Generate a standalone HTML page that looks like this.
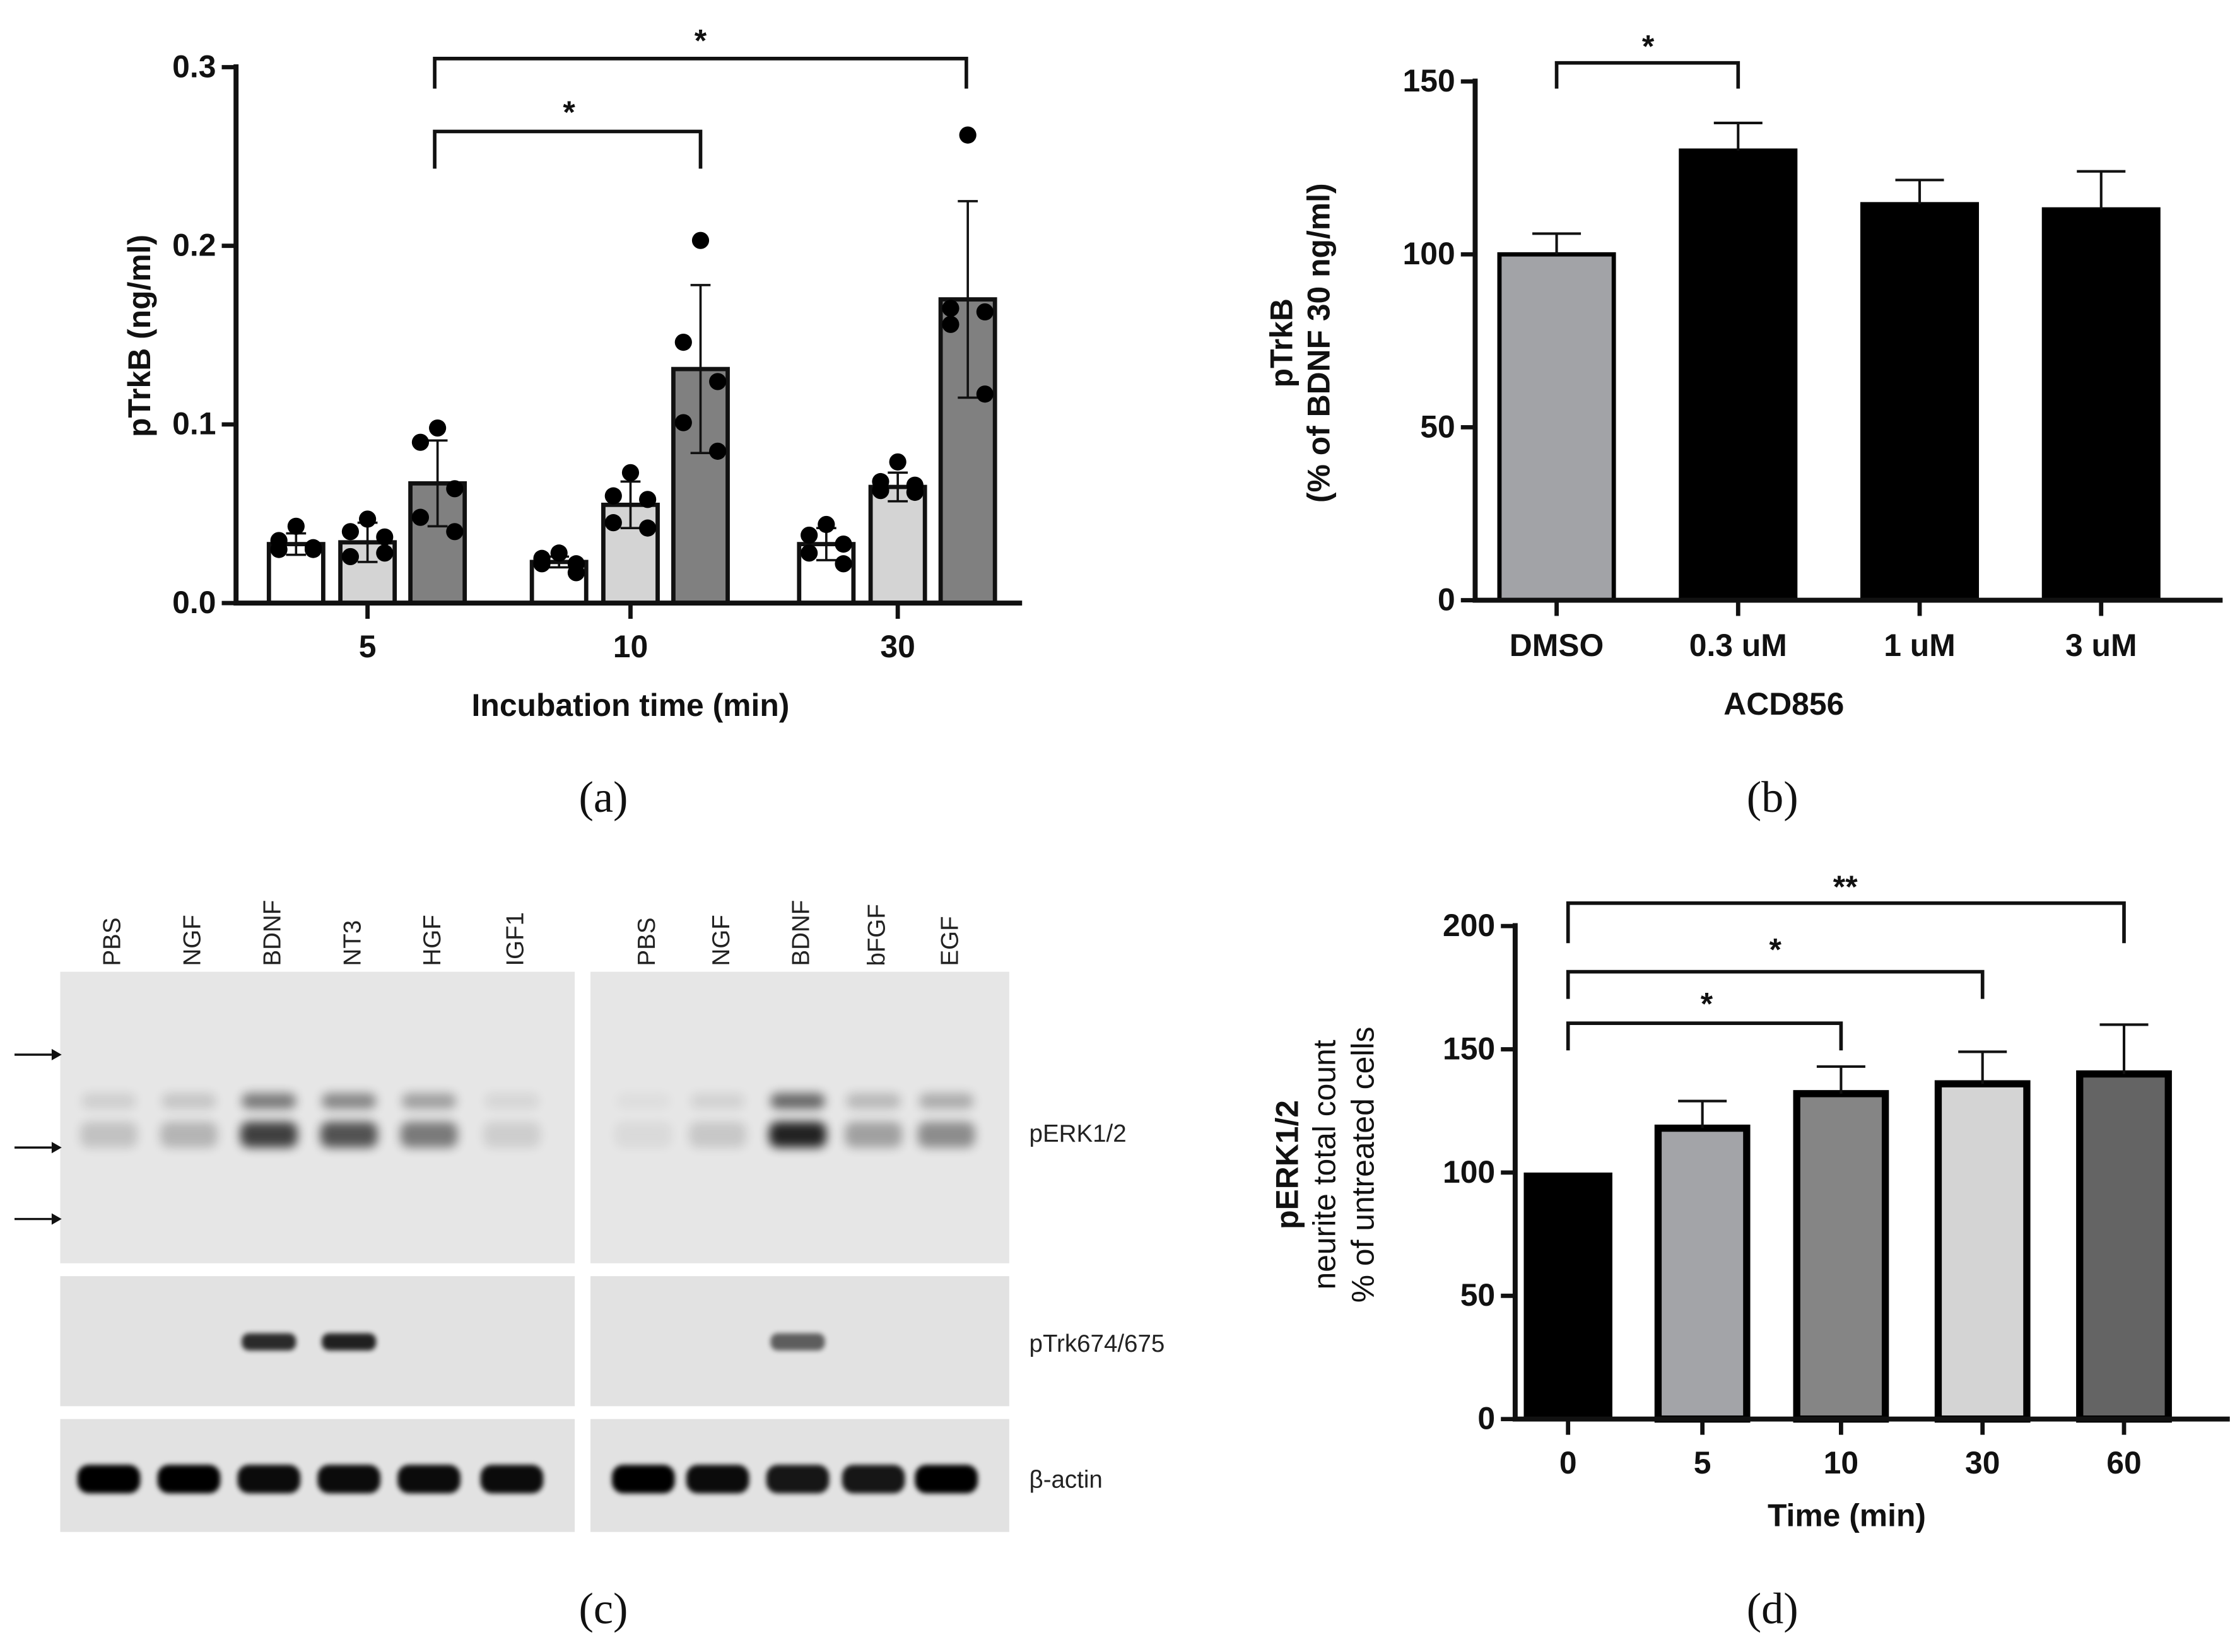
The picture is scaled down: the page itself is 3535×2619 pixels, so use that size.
<!DOCTYPE html>
<html><head><meta charset="utf-8"><style>
html,body{margin:0;padding:0;background:#fff;}
svg{display:block;}
text{font-family:"Liberation Sans",Arial,sans-serif;}
.t{font-weight:bold;font-size:22px;fill:#111;}
.cap{font-family:"Liberation Serif",serif;font-size:31px;fill:#111;}
.blot{font-family:"Liberation Sans",sans-serif;font-size:17px;fill:#222;}
</style></head><body>
<svg id="fig" width="3535" height="2619" viewBox="0 0 1560 1156" xmlns="http://www.w3.org/2000/svg">
<defs>
<filter id="blur" x="-50%" y="-100%" width="200%" height="300%"><feGaussianBlur stdDeviation="3.5"/></filter>
<filter id="blur2" x="-50%" y="-100%" width="200%" height="300%"><feGaussianBlur stdDeviation="1.8"/></filter>
</defs>
<g id="pa"></g>
<g id="pb"></g>
<g id="pc"></g>
<g id="pd"></g>
</svg>
<script>
// ---- Panel A data ----
const aCategories = ["5","10","30"];
const aMeans = [[0.033,0.034,0.067],[0.023,0.055,0.131],[0.033,0.065,0.170]];
const aSD = [[0.006,0.011,0.024],[0.003,0.013,0.047],[0.009,0.008,0.055]];
const aPoints = [
 [[0.043,0.035,0.031,0.030,0.030],[0.047,0.040,0.037,0.026,0.028],[0.098,0.090,0.064,0.048,0.040]],
 [[0.028,0.025,0.022,0.022,0.017],[0.073,0.060,0.058,0.045,0.042],[0.203,0.146,0.124,0.101,0.085]],
 [[0.044,0.038,0.033,0.028,0.022],[0.079,0.068,0.066,0.063,0.062],[0.262,0.165,0.163,0.156,0.117]]
];
const aTicks = [0.0,0.1,0.2,0.3];
const aTickLabels = ["0.0","0.1","0.2","0.3"];
// ---- Panel B data ----
const bCategories = ["DMSO","0.3 uM","1 uM","3 uM"];
const bMeans = [100,130,114.5,113];
const bErr = [6,8,7,11];
const bTicks = [0,50,100,150];
// ---- Panel D data ----
const dCategories = ["0","5","10","30","60"];
const dMeans = [100,118,132,136,140];
const dErr = [0,11,11,13,20];
const dTicks = [0,50,100,150,200];
// ---- Panel C lanes ----
const cLeftLanes = ["PBS","NGF","BDNF","NT3","HGF","IGF1"];
const cRightLanes = ["PBS","NGF","BDNF","bFGF","EGF"];
const cLeftErk = [0.18,0.25,0.85,0.75,0.55,0.12];
const cRightErk = [0.06,0.15,1.0,0.35,0.45];
const cLeftTrk = [0,0,0.9,0.95,0,0];
const cRightTrk = [0,0,0.65,0,0];
const cLeftActin = [1,1,0.95,0.95,0.95,0.95];
const cRightActin = [1,0.95,0.9,0.9,1];

const NS="http://www.w3.org/2000/svg";
function mk(parent,tag,attrs){const e=document.createElementNS(NS,tag);for(const k in attrs)e.setAttribute(k,attrs[k]);parent.appendChild(e);return e;}
function txt(parent,x,y,s,cls,anchor,extra){const e=mk(parent,'text',Object.assign({x:x,y:y,'class':cls,'text-anchor':anchor||'middle'},extra||{}));e.textContent=s;return e;}

// ===== Panel A =====
(function(){
 const g=document.getElementById('pa');
 const x0=165,y0=422,yTop=47,vmax=0.3;
 const ya=v=>y0-(v/vmax)*(y0-yTop);
 const groupX=[257,441,628], off=[-50,0,49], bw=38;
 const fills=["#ffffff","#d4d4d4","#808080"];
 aCategories.forEach((c,i)=>{
  for(let j=0;j<3;j++){
   const cx=groupX[i]+off[j], m=aMeans[i][j], sd=aSD[i][j];
   const r=mk(g,'rect',{x:cx-bw/2,y:ya(m),width:bw,height:y0-ya(m),fill:fills[j],stroke:'#111','stroke-width':3});
   
   
   const e=mk(g,'path',{d:`M${cx},${ya(m+sd)}V${ya(m-sd)}M${cx-7},${ya(m+sd)}H${cx+7}M${cx-7},${ya(m-sd)}H${cx+7}`,stroke:'#111','stroke-width':1.6,fill:'none'});
   
   
   const jit=[0,-12,12,-12,12];
   aPoints[i][j].forEach((v,k)=>{
    const p=mk(g,'circle',{cx:cx+jit[k],cy:ya(v),r:6,fill:'#000'});
    
    
   });
  }
  const tk=mk(g,'line',{x1:groupX[i],x2:groupX[i],y1:y0,y2:y0+11,stroke:'#111','stroke-width':3});
  
  
  const tl=txt(g,groupX[i],y0+38,c,'t');
  
  
 });
 mk(g,'path',{d:`M${x0},${yTop-2}V${y0}H${715}`,stroke:'#111','stroke-width':3.5,fill:'none',});
 aTicks.forEach((v,i)=>{
  const l=mk(g,'line',{x1:x0-10,x2:x0,y1:ya(v),y2:ya(v),stroke:'#111','stroke-width':3});
  
  
  const t=txt(g,x0-14,ya(v)+7,aTickLabels[i],'t','end');
  
  
 });
 mk(g,'path',{d:'M304,62V41H676V62',stroke:'#111','stroke-width':2.5,fill:'none',});
 mk(g,'path',{d:'M304,118V92H490V118',stroke:'#111','stroke-width':2.5,fill:'none',});
 txt(g,490,36,'*','t','middle',{'font-size':30,});
 txt(g,398,86,'*','t','middle',{'font-size':30,});
 txt(g,105,235,'pTrkB (ng/ml)','t','middle',{transform:'rotate(-90 105 235)','font-size':24,});
 txt(g,441,501,'Incubation time (min)','t','middle',{'font-size':25,});
 txt(g,422,568,'(a)','cap','middle',{});
})();

// ===== Panel B =====
(function(){
 const g=document.getElementById('pb');
 const x0=1032,y0=420,yTop=57,vmax=150;
 const yb=v=>y0-(v/vmax)*(y0-yTop);
 const cxs=[1089,1216,1343,1470],bw=80;
 bCategories.forEach((c,i)=>{
  const cx=cxs[i],m=bMeans[i],er=bErr[i];
  const r=mk(g,'rect',{x:cx-bw/2,y:yb(m),width:bw,height:y0-yb(m),fill:i===0?'#a2a3a7':'#000',stroke:'#000','stroke-width':3});
  
  
  const e=mk(g,'path',{d:`M${cx},${yb(m)}V${yb(m+er)}M${cx-17},${yb(m+er)}H${cx+17}`,stroke:'#111','stroke-width':1.8,fill:'none'});
  
  
  const tk=mk(g,'line',{x1:cx,x2:cx,y1:y0,y2:y0+11,stroke:'#111','stroke-width':3});
  
  
  const tl=txt(g,cx,y0+39,c,'t');
  
  
 });
 mk(g,'path',{d:`M${x0},${yTop-2}V${y0}H${1555}`,stroke:'#111','stroke-width':3.5,fill:'none',});
 bTicks.forEach(v=>{
  const l=mk(g,'line',{x1:x0-10,x2:x0,y1:yb(v),y2:yb(v),stroke:'#111','stroke-width':3});
  
  
  const t=txt(g,x0-14,yb(v)+7,String(v),'t','end');
  
  
 });
 mk(g,'path',{d:'M1089,62V44H1216V62',stroke:'#111','stroke-width':2.5,fill:'none',});
 txt(g,1153,40,'*','t','middle',{'font-size':30,});
 txt(g,904,240,'pTrkB','t','middle',{transform:'rotate(-90 904 240)','font-size':23,});
 txt(g,930,240,'(% of BDNF 30 ng/ml)','t','middle',{transform:'rotate(-90 930 240)','font-size':22,});
 txt(g,1248,500,'ACD856','t','middle',{'font-size':24,});
 txt(g,1240,568,'(b)','cap','middle',{});
})();

// ===== Panel C =====
(function(){
 const g=document.getElementById('pc');
 const rows=[[680,884],[893,984],[993,1072]];
 const panels=[{x:42,w:360,lanes:cLeftLanes,lx:[76,132,188,244,300,358],erk:cLeftErk,trk:cLeftTrk,act:cLeftActin},
               {x:413,w:293,lanes:cRightLanes,lx:[450,502,558,611,662],erk:cRightErk,trk:cRightTrk,act:cRightActin}];
 panels.forEach((p,pi)=>{
  rows.forEach((r,ri)=>{
   const b=mk(g,'rect',{x:p.x,y:r[0],width:p.w,height:r[1]-r[0],fill:ri===0?'#e6e6e6':'#e2e2e2'});
   
   
  });
  p.lanes.forEach((ln,i)=>{
   const cx=p.lx[i];
   const t=txt(g,cx+8,676,ln,'blot','start',{transform:`rotate(-90 ${cx+8} 676)`,'font-size':21});
   
   
   const e=p.erk[i];
   if(e>0){
    const b1=mk(g,'rect',{x:cx-20,y:785,width:40,height:18,rx:6,fill:'#000',opacity:e*0.85,filter:'url(#blur)'});
    
    
    const b2=mk(g,'rect',{x:cx-19,y:765,width:38,height:11,rx:5,fill:'#000',opacity:e*0.55,filter:'url(#blur)'});
    
    
   }
   const tr=p.trk[i];
   if(tr>0){
    const b=mk(g,'rect',{x:cx-19,y:933,width:38,height:12,rx:5,fill:'#000',opacity:tr*0.9,filter:'url(#blur2)'});
    
    
   }
   const a=mk(g,'rect',{x:cx-22,y:1025,width:44,height:20,rx:8,fill:'#000',opacity:p.act[i],filter:'url(#blur2)'});
   
   
  });
 });
 [738,803,853].forEach(y=>{
  mk(g,'path',{d:`M10,${y}H36`,stroke:'#111','stroke-width':1.5,});
  mk(g,'path',{d:`M36,${y-4}L43,${y}L36,${y+4}Z`,fill:'#111',});
 });
 txt(g,720,799,'pERK1/2','blot','start',{});
 txt(g,720,946,'pTrk674/675','blot','start',{});
 txt(g,720,1041,'β-actin','blot','start',{});
 txt(g,422,1136,'(c)','cap','middle',{});
})();

// ===== Panel D =====
(function(){
 const g=document.getElementById('pd');
 const x0=1060,y0=993,yTop=648,vmax=200;
 const yd=v=>y0-(v/vmax)*(y0-yTop);
 const cxs=[1097,1191,1288,1387,1486],bw=62;
 const fills=['#000','#a3a4a8','#858585','#d4d4d4','#646464'];
 dCategories.forEach((c,i)=>{
  const cx=cxs[i],m=dMeans[i],er=dErr[i];
  const r=mk(g,'rect',{x:cx-bw/2,y:yd(m),width:bw,height:y0-yd(m),fill:fills[i],stroke:'#000','stroke-width':i===0?0:5});
  
  
  if(er>0){
   const e=mk(g,'path',{d:`M${cx},${yd(m)}V${yd(m+er)}M${cx-17},${yd(m+er)}H${cx+17}`,stroke:'#111','stroke-width':1.8,fill:'none'});
   
   
  }
  const tk=mk(g,'line',{x1:cx,x2:cx,y1:y0,y2:y0+11,stroke:'#111','stroke-width':3});
  
  
  const tl=txt(g,cx,y0+38,c,'t');
  
  
 });
 mk(g,'path',{d:`M${x0},${yTop-2}V${y0}H${1560}`,stroke:'#111','stroke-width':3.5,fill:'none',});
 dTicks.forEach(v=>{
  const l=mk(g,'line',{x1:x0-10,x2:x0,y1:yd(v),y2:yd(v),stroke:'#111','stroke-width':3});
  
  
  const t=txt(g,x0-14,yd(v)+7,String(v),'t','end');
  
  
 });
 mk(g,'path',{d:'M1097,660V632H1486V660',stroke:'#111','stroke-width':2.5,fill:'none',});
 mk(g,'path',{d:'M1097,699V680H1387V699',stroke:'#111','stroke-width':2.5,fill:'none',});
 mk(g,'path',{d:'M1097,735V716H1288V735',stroke:'#111','stroke-width':2.5,fill:'none',});
 txt(g,1291,628,'**','t','middle',{'font-size':30,});
 txt(g,1242,672,'*','t','middle',{'font-size':30,});
 txt(g,1194,710,'*','t','middle',{'font-size':30,});
 txt(g,908,815,'pERK1/2','t','middle',{transform:'rotate(-90 908 815)','font-size':23,});
 txt(g,934,815,'neurite total count','t','middle',{transform:'rotate(-90 934 815)','font-size':22,'style':'font-weight:normal',});
 txt(g,961,815,'% of untreated cells','t','middle',{transform:'rotate(-90 961 815)','font-size':22,'style':'font-weight:normal',});
 txt(g,1292,1068,'Time (min)','t','middle',{'font-size':24,});
 txt(g,1240,1136,'(d)','cap','middle',{});
})();
</script>
</body></html>
